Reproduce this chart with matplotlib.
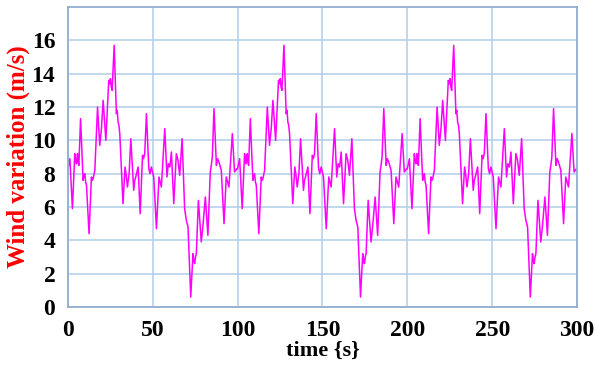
import numpy as np
import matplotlib.pyplot as plt

# --- one 100 s period of the wind profile ---
t_period = [0.0, 1.2, 2.7, 4.1, 4.6, 5.1, 5.7, 6.1, 6.5, 7.5, 9.0, 9.5, 10.0, 10.5,
            11.0, 12.5, 13.9, 14.4, 14.9, 15.9, 17.5, 18.8, 19.8, 20.8, 21.4,
            22.4, 24.1, 24.6, 25.1, 25.6, 26.1, 27.3, 28.6, 29.1, 29.6, 30.1,
            30.6, 32.5, 33.7, 34.4, 35.1, 36.1, 37.1, 38.8, 39.4, 40.0, 41.4,
            42.6, 44.0, 44.6, 45.3, 46.3, 47.7, 48.4, 49.2, 50.6, 52.2, 53.7,
            54.4, 55.1, 57.1, 58.4, 59.2, 60.1, 61.0, 62.4, 63.9, 64.9, 65.9,
            67.3, 68.8, 69.8, 70.8, 72.4, 73.7, 74.2, 74.7, 75.2, 75.7, 76.9,
            78.6, 79.6, 81.0, 82.5, 83.9, 84.5, 85.1, 86.1, 87.5, 88.2, 89.0,
            90.4, 92.0, 93.3, 94.1, 94.9, 96.9, 98.2, 99.6]
v_period = [8.3, 8.9, 5.9, 9.2, 8.8, 8.6, 9.2, 8.7, 8.5, 11.3, 7.6, 7.9, 8.0, 7.5,
            7.3, 4.4, 7.8, 7.6, 7.7, 8.2, 12.0, 9.7, 10.7, 12.4, 11.5,
            10.0, 13.6, 13.4, 13.7, 13.2, 13.0, 15.7, 11.6, 11.8, 11.1, 10.9,
            10.4, 6.2, 8.4, 7.9, 7.2, 8.0, 10.1, 7.0, 7.6, 7.8, 8.4,
            5.6, 9.1, 8.9, 9.2, 11.6, 8.3, 8.0, 8.4, 7.8, 4.7, 7.8,
            7.5, 7.2, 10.7, 7.8, 8.6, 8.4, 9.3, 6.2, 9.2, 8.8, 7.9,
            10.1, 5.9, 5.2, 4.8, 0.6, 3.2, 2.8, 2.6, 3.0, 3.2, 6.4,
            3.9, 4.9, 6.6, 4.3, 8.1, 8.5, 9.0, 11.9, 8.5, 8.9, 8.7,
            8.2, 5.0, 7.8, 7.5, 7.2, 10.4, 8.1, 8.3]
n_periods = 3

time = np.concatenate([np.array(t_period) + 100 * k for k in range(n_periods)] + [[300.0]])
wind = np.concatenate([v_period] * n_periods + [[8.3]])

plt.rcParams['font.family'] = ['Liberation Serif', 'DejaVu Serif']

fig = plt.figure(figsize=(5.95, 3.69), dpi=100)
ax = fig.add_axes([0.114, 0.168, 0.856, 0.813])

ax.plot(time, wind, color='#ff00ff', linewidth=1.1)

ax.set_xlim(0, 300)
ax.set_ylim(0, 18)
ax.set_xticks(range(0, 301, 50))
ax.set_yticks(range(0, 17, 2))
ax.grid(True, color='#b0cde8', linewidth=1.1)
ax.set_axisbelow(True)
for s in ax.spines.values():
    s.set_color('#93add0')
    s.set_linewidth(1.3)
ax.tick_params(axis='y', length=0, labelsize=17, pad=9)
ax.tick_params(axis='x', length=0, labelsize=17, pad=9)
for lab in ax.get_xticklabels() + ax.get_yticklabels():
    lab.set_fontweight('bold')

ax.set_xlabel("time {s}", fontsize=16, fontweight='bold', labelpad=0)
ax.set_ylabel("Wind variation (m/s)", fontsize=18, fontweight='bold', color='red', labelpad=1)

fig.savefig("out.png", dpi=100)
